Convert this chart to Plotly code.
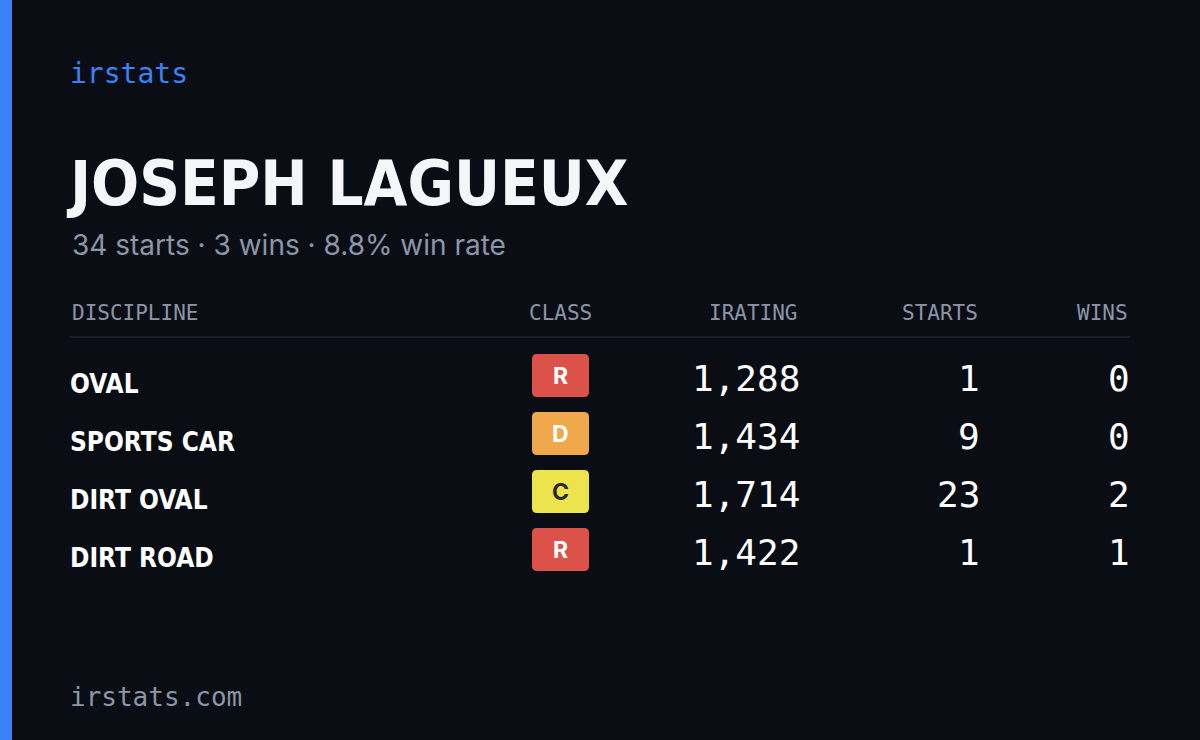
import plotly.graph_objects as go

# data
disciplines = ["OVAL", "SPORTS CAR", "DIRT OVAL", "DIRT ROAD"]
classes = ["R", "D", "C", "R"]
iratings = [1288, 1434, 1714, 1422]
starts = [1, 9, 23, 1]
wins = [0, 0, 2, 1]
headers = ["DISCIPLINE", "CLASS", "IRATING", "STARTS", "WINS"]
driver = "JOSEPH LAGUEUX"
total_starts, total_wins = 34, 3

class_colors = {"R": "#dc524a", "D": "#f0a84c", "C": "#ede34c"}
class_text = {"R": "#ffffff", "D": "#ffffff", "C": "#2a2a2a"}

BG = "#0b0d14"
GRAY = "#8b95a8"
MONO = "DejaVu Sans Mono, Liberation Mono, monospace"
COND = "DejaVu Sans Condensed, Liberation Sans Narrow, sans-serif"

fig = go.Figure()
ann = []
shapes = []

def text(x, y, t, size, color, font, anchor="left", bold=False):
    ann.append(dict(x=x, y=y, text=f"<b>{t}</b>" if bold else t, showarrow=False,
                    xanchor=anchor, yanchor="middle",
                    font=dict(size=size, color=color, family=font)))

def rounded(x0, y0, x1, y1, r):
    return (f"M{x0+r},{y0} L{x1-r},{y0} Q{x1},{y0} {x1},{y0+r} L{x1},{y1-r} Q{x1},{y1} {x1-r},{y1} "
            f"L{x0+r},{y1} Q{x0},{y1} {x0},{y1-r} L{x0},{y0+r} Q{x0},{y0} {x0+r},{y0} Z")

# left accent bar
shapes.append(dict(type="rect", x0=0, x1=12, y0=0, y1=740, fillcolor="#3b82f6", line_width=0, layer="below"))

text(68, 73, "irstats", 28, "#3b82f6", MONO)
text(64, 183, driver, 63, "#f4f6fa", COND, bold=True)
win_rate = total_wins / total_starts * 100
text(70, 245, f"{total_starts} starts · {total_wins} wins · {win_rate:.1f}% win rate", 28, GRAY, "Inter, Roboto, sans-serif")

# header
hx = [(70, "left"), (560, "center"), (800, "right"), (980, "right"), (1130, "right")]
for (x, a), h in zip(hx, headers):
    text(x, 313, h, 21, GRAY, MONO, anchor=a)
shapes.append(dict(type="line", x0=70, x1=1130, y0=337, y1=337, line=dict(color="#1e2330", width=1.5)))

for i, d in enumerate(disciplines):
    y = 378 + i * 58
    text(68, y + 6, d, 26, "#ffffff", COND, bold=True)
    c = classes[i]
    shapes.append(dict(type="path", path=rounded(532, y - 24, 589, y + 19, 5), fillcolor=class_colors[c],
                       line_width=0, layer="below"))
    text(560, y - 2, c, 23, class_text[c], "Inter, Roboto, sans-serif", anchor="center", bold=True)
    text(802, y, f"{iratings[i]:,}", 36, "#ffffff", MONO, anchor="right")
    text(982, y, str(starts[i]), 36, "#ffffff", MONO, anchor="right")
    text(1132, y, str(wins[i]), 36, "#ffffff", MONO, anchor="right")

text(68, 697, "irstats.com", 26, GRAY, MONO)

fig.update_layout(width=1200, height=740, margin=dict(l=0, r=0, t=0, b=0),
                  paper_bgcolor=BG, plot_bgcolor=BG, annotations=ann, shapes=shapes,
                  xaxis=dict(range=[0, 1200], visible=False, fixedrange=True),
                  yaxis=dict(range=[740, 0], visible=False, fixedrange=True),
                  showlegend=False)
fig.write_html("out.html", config={"displayModeBar": False},
               post_script="document.body.style.margin='0';document.body.style.background='#0b0d14';")
